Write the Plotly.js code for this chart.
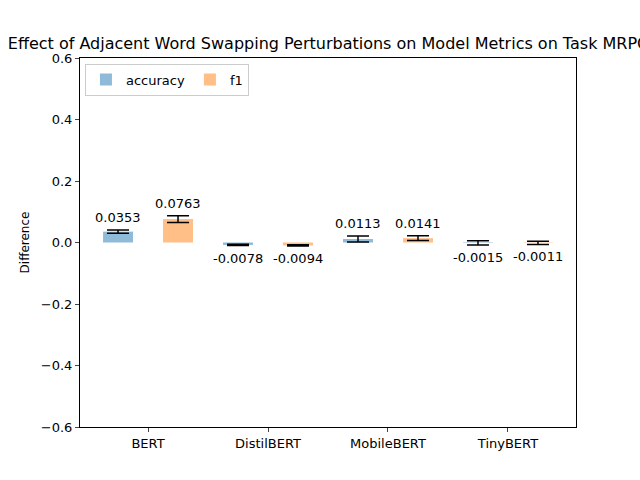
<!DOCTYPE html>
<html>
<head>
<script src="https://cdn.plot.ly/plotly-3.0.1.min.js"></script>
<style>body{margin:0}#chart{width:640px;height:480px}</style>
</head>
<body>
<div id="chart"></div>
<script>
const models = ['BERT', 'DistilBERT', 'MobileBERT', 'TinyBERT'];
const accuracy = [0.0353, -0.0078, 0.0113, -0.0015];
const accuracyErr = [0.0055, 0.002, 0.01, 0.007];
const f1 = [0.0763, -0.0094, 0.0141, -0.0011];
const f1Err = [0.011, 0.002, 0.0075, 0.005];

const idx = models.map((_, i) => i);
const barWidth = 0.25;

function series(name, vals, errs, offset, color) {
    return {
        type: 'bar',
        name,
        x: idx.map(i => i + offset),
        y: vals,
        width: barWidth,
        marker: { color, line: { width: 0 } },
        error_y: { type: 'data', array: errs, visible: true, color: 'black', thickness: 1.5, width: 11 },
    };
}

const traces = [
    series('accuracy', accuracy, accuracyErr, -0.25, 'rgba(31,119,180,0.5)'),
    series('f1', f1, f1Err, 0.25, 'rgba(255,127,14,0.5)'),
];

const annotations = [];
[[accuracy, accuracyErr, -0.25], [f1, f1Err, 0.25]].forEach(([vals, errs, off]) => {
    vals.forEach((v, i) => {
        const pos = v >= 0;
        annotations.push({
            x: i + off, y: pos ? v + errs[i] : v - errs[i],
            text: v.toFixed(4), showarrow: false,
            yanchor: pos ? 'bottom' : 'top', yshift: pos ? 3 : -3,
            font: { size: 13, color: 'black' },
        });
    });
});

const layout = {
    width: 640, height: 480,
    margin: { l: 80, r: 64, t: 58, b: 53 },
    paper_bgcolor: 'white', plot_bgcolor: 'white',
    font: { family: 'DejaVu Sans', size: 13, color: 'black' },
    title: {
        text: 'Effect of Adjacent Word Swapping Perturbations on Model Metrics on Task MRPC',
        font: { size: 16 }, x: 0.5, xref: 'paper', y: 0.91, yanchor: 'middle',
    },
    showlegend: true,
    legend: {
        orientation: 'h', x: 0.01, y: 0.985, xanchor: 'left', yanchor: 'top',
        bordercolor: '#cccccc', borderwidth: 1, font: { size: 13 }, bgcolor: 'white',
    },
    xaxis: {
        range: [-0.567, 3.567], tickvals: idx, ticktext: models,
        showgrid: false, zeroline: false, showline: true, mirror: true,
        linecolor: 'black', ticks: 'outside', ticklen: 4,
    },
    yaxis: {
        range: [-0.6, 0.6], dtick: 0.2, tickformat: '.1f',
        showgrid: false, zeroline: false, showline: true, mirror: true,
        linecolor: 'black', ticks: 'outside', ticklen: 4,
        title: { text: 'Difference', standoff: 8, font: { size: 12 } },
    },
    annotations,
};

Plotly.newPlot('chart', traces, layout, { displayModeBar: false });
</script>
</body>
</html>
